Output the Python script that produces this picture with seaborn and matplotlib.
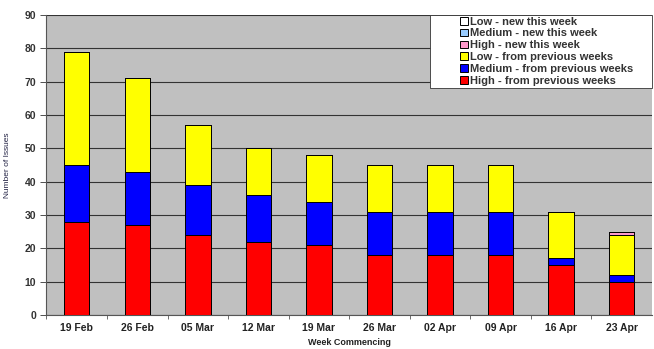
import numpy as np
import pandas as pd
import matplotlib
matplotlib.use("Agg")
import matplotlib.pyplot as plt
from matplotlib.patches import Rectangle
import seaborn as sns

# Weekly issue counts
weeks = ["19 Feb", "26 Feb", "05 Mar", "12 Mar", "19 Mar",
         "26 Mar", "02 Apr", "09 Apr", "16 Apr", "23 Apr"]
high_prev = [28, 27, 24, 22, 21, 18, 18, 18, 15, 10]
medium_prev = [17, 16, 15, 14, 13, 13, 13, 13, 2, 2]
low_prev = [34, 28, 18, 14, 14, 14, 14, 14, 14, 12]
high_new = [0, 0, 0, 0, 0, 0, 0, 0, 0, 1]
medium_new = [0, 0, 0, 0, 0, 0, 0, 0, 0, 0]
low_new = [0, 0, 0, 0, 0, 0, 0, 0, 0, 0]

series = [
    ("High - from previous weeks", high_prev, "#FF0000"),
    ("Medium - from previous weeks", medium_prev, "#0000FF"),
    ("Low - from previous weeks", low_prev, "#FFFF00"),
    ("High - new this week", high_new, "#FF99CC"),
    ("Medium - new this week", medium_new, "#99CCFF"),
    ("Low - new this week", low_new, "#FFFFFF"),
]

sns.set_style("white")
plt.rcParams["font.family"] = ["Liberation Sans", "DejaVu Sans"]

fig = plt.figure(figsize=(6.54, 3.49), dpi=100)
ax = fig.add_axes([0.071, 0.097, 0.926, 0.86])
ax.set_facecolor("#C0C0C0")

bottom = np.zeros(len(weeks))
for name, vals, col in series:
    df = pd.DataFrame({"week": weeks, "n": vals})
    sns.barplot(data=df, x="week", y="n", bottom=bottom, color=col,
                saturation=1, edgecolor="black", linewidth=0.7, width=0.42,
                label=name, ax=ax, zorder=3)
    bottom = bottom + np.array(vals)

ax.set_ylim(0, 90)
ax.set_xlim(-0.5, len(weeks) - 0.5)
ax.set_yticks(range(0, 91, 10))
ax.yaxis.grid(True, color="#333333", linewidth=0.8, zorder=0)
ax.set_axisbelow(True)

for s in ["top", "right"]:
    ax.spines[s].set_visible(False)
for s in ["left", "bottom"]:
    ax.spines[s].set_color("#555555")
    ax.spines[s].set_linewidth(0.8)

ax.tick_params(axis="y", labelsize=7.5, colors="#333333", length=4, width=0.6,
               direction="out", left=True)
ax.tick_params(axis="x", labelsize=7.5, colors="#222222", length=0, pad=6)
for t in ax.get_xticklabels() + ax.get_yticklabels():
    t.set_fontweight("bold")
ax.set_xticks(np.arange(len(weeks)) - 0.5, minor=True)
ax.tick_params(axis="x", which="minor", length=3, width=0.6, color="#555555",
               bottom=True)

ax.set_xlabel("Week Commencing", fontsize=6.5, fontweight="bold",
              color="#222222", labelpad=3)
ax.set_ylabel("Number of Issues", fontsize=6, color="#222244", labelpad=10)

# legend box: white frame with the entries indented from its left edge
ax.add_patch(Rectangle((0.634, 0.757), 0.366, 0.243, transform=ax.transAxes,
                       facecolor="white", edgecolor="#333333", linewidth=0.6,
                       zorder=4, clip_on=False))
handles, labels = ax.get_legend_handles_labels()
leg = ax.legend(handles[::-1], labels[::-1], loc="upper left",
                bbox_to_anchor=(0.683, 0.995), fontsize=8, frameon=False,
                handlelength=0.7, handleheight=0.7, handletextpad=0.15,
                labelspacing=0.17, borderpad=0.0, borderaxespad=0.0)
for t in leg.get_texts():
    t.set_fontweight("bold")
    t.set_color("#333333")
leg.set_zorder(5)

fig.savefig("out.png", dpi=100)
